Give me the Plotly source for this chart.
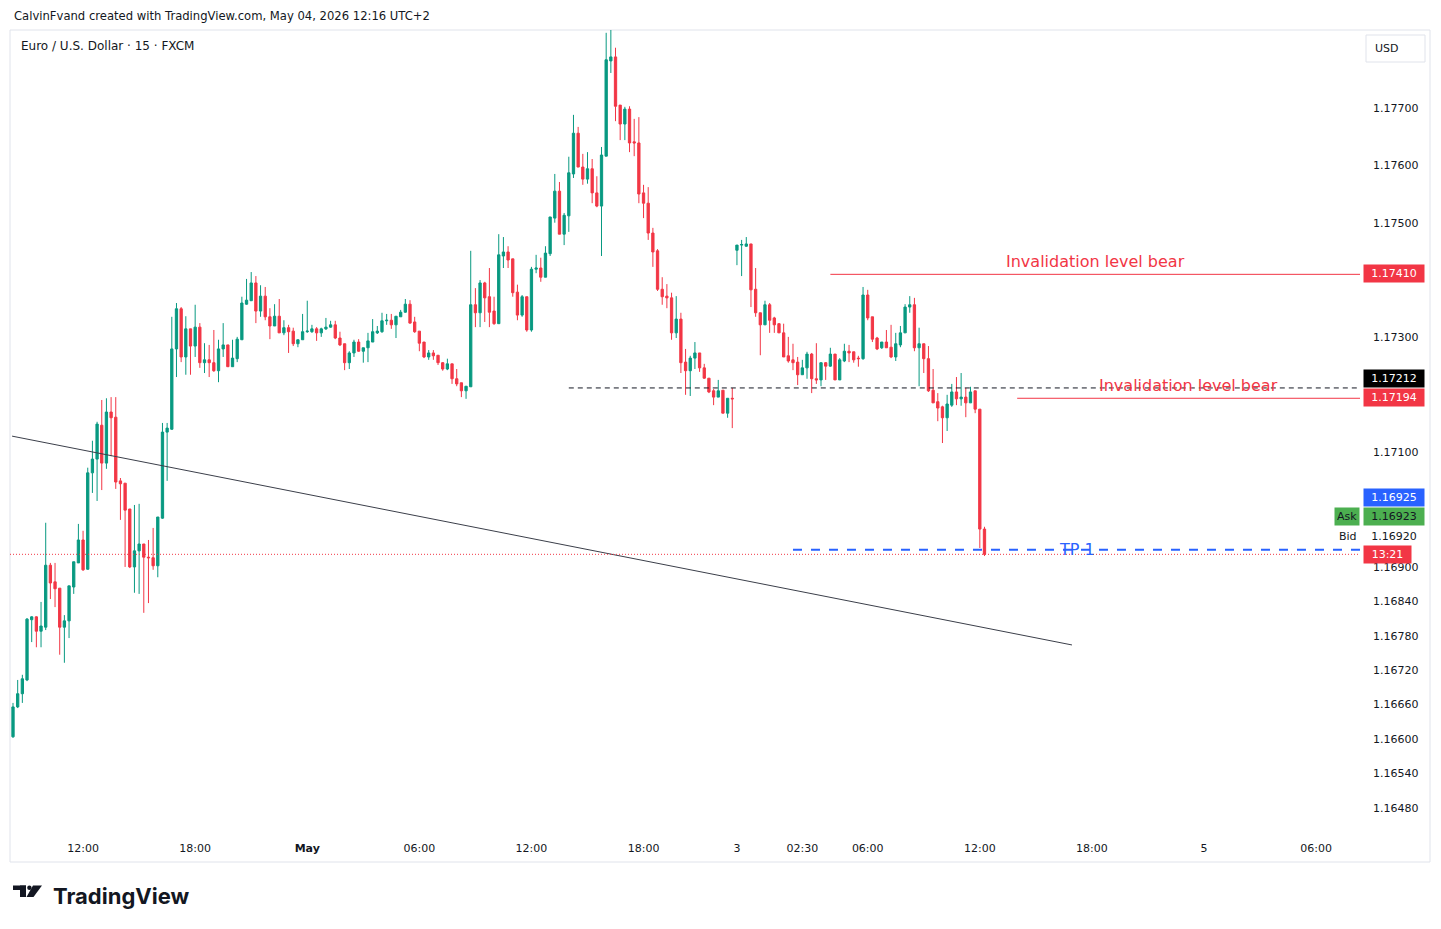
import pandas as pd
import plotly.graph_objects as go

# ---------------- data ----------------
session_starts = ["2026-04-30 08:15", "2026-05-03 23:00"]
session_bars = [155, 54]

opens = [
    1.16604, 1.16656, 1.16679, 1.16703, 1.16808, 1.16813, 1.16788, 1.16795, 1.16903, 1.16874,
    1.16863, 1.16795, 1.16806, 1.16865, 1.16907, 1.16947, 1.16896, 1.17064, 1.17088, 1.17147,
    1.17081, 1.17170, 1.17161, 1.17050, 1.17046, 1.17001, 1.16900, 1.16928, 1.16940, 1.16917,
    1.16916, 1.16902, 1.16985, 1.17135, 1.17140, 1.17280, 1.17350, 1.17266, 1.17315, 1.17285,
    1.17318, 1.17256, 1.17261, 1.17256, 1.17242, 1.17280, 1.17287, 1.17249, 1.17263, 1.17296,
    1.17358, 1.17364, 1.17395, 1.17346, 1.17372, 1.17336, 1.17320, 1.17337, 1.17308, 1.17317,
    1.17311, 1.17289, 1.17296, 1.17310, 1.17310, 1.17315, 1.17308, 1.17315, 1.17318, 1.17322,
    1.17299, 1.17289, 1.17256, 1.17273, 1.17292, 1.17276, 1.17282, 1.17292, 1.17308, 1.17310,
    1.17329, 1.17330, 1.17322, 1.17336, 1.17344, 1.17358, 1.17327, 1.17311, 1.17292, 1.17266,
    1.17273, 1.17269, 1.17256, 1.17245, 1.17254, 1.17228, 1.17221, 1.17207, 1.17214, 1.17357,
    1.17343, 1.17395, 1.17371, 1.17346, 1.17324, 1.17442, 1.17449, 1.17437, 1.17379, 1.17339,
    1.17371, 1.17313, 1.17419, 1.17421, 1.17405, 1.17446, 1.17508, 1.17555, 1.17480, 1.17512,
    1.17585, 1.17656, 1.17597, 1.17576, 1.17594, 1.17552, 1.17529, 1.17616, 1.17782, 1.17789,
    1.17705, 1.17672, 1.17698, 1.17641, 1.17639, 1.17552, 1.17534, 1.17482, 1.17451, 1.17384,
    1.17372, 1.17369, 1.17308, 1.17332, 1.17257, 1.17242, 1.17264, 1.17273, 1.17247, 1.17229,
    1.17207, 1.17196, 1.17208, 1.17168, 1.17194,
    1.17452, 1.17461, 1.17459, 1.17463, 1.17384, 1.17343, 1.17322, 1.17357, 1.17334, 1.17324,
    1.17308, 1.17268, 1.17261, 1.17257, 1.17235, 1.17247, 1.17271, 1.17228, 1.17226, 1.17256,
    1.17250, 1.17271, 1.17226, 1.17259, 1.17276, 1.17275, 1.17264, 1.17263, 1.17374, 1.17336,
    1.17299, 1.17282, 1.17292, 1.17283, 1.17266, 1.17287, 1.17308, 1.17353, 1.17357, 1.17282,
    1.17289, 1.17263, 1.17208, 1.17188, 1.17179, 1.17160, 1.17182, 1.17205, 1.17193, 1.17196,
    1.17186, 1.17207, 1.17175, 1.16966,
]
highs = [
    1.16663, 1.16703, 1.16712, 1.16811, 1.16814, 1.16814, 1.16839, 1.16977, 1.16907, 1.16907,
    1.16863, 1.16816, 1.16867, 1.16909, 1.16975, 1.16963, 1.17073, 1.17120, 1.17153, 1.17191,
    1.17194, 1.17196, 1.17196, 1.17055, 1.17046, 1.17001, 1.17008, 1.17010, 1.16940, 1.16947,
    1.16968, 1.16987, 1.17151, 1.17151, 1.17336, 1.17360, 1.17353, 1.17337, 1.17315, 1.17357,
    1.17325, 1.17290, 1.17287, 1.17313, 1.17296, 1.17325, 1.17287, 1.17296, 1.17301, 1.17371,
    1.17402, 1.17414, 1.17407, 1.17391, 1.17388, 1.17351, 1.17358, 1.17367, 1.17330, 1.17322,
    1.17317, 1.17296, 1.17341, 1.17364, 1.17322, 1.17318, 1.17317, 1.17334, 1.17329, 1.17329,
    1.17310, 1.17289, 1.17276, 1.17296, 1.17297, 1.17282, 1.17308, 1.17332, 1.17320, 1.17343,
    1.17341, 1.17341, 1.17337, 1.17348, 1.17367, 1.17365, 1.17336, 1.17311, 1.17292, 1.17278,
    1.17278, 1.17269, 1.17257, 1.17263, 1.17254, 1.17245, 1.17221, 1.17215, 1.17451, 1.17386,
    1.17400, 1.17397, 1.17421, 1.17371, 1.17480, 1.17475, 1.17459, 1.17437, 1.17392, 1.17374,
    1.17371, 1.17423, 1.17444, 1.17439, 1.17459, 1.17510, 1.17585, 1.17571, 1.17517, 1.17615,
    1.17688, 1.17667, 1.17620, 1.17623, 1.17611, 1.17581, 1.17632, 1.17831, 1.17836, 1.17805,
    1.17705, 1.17702, 1.17703, 1.17681, 1.17684, 1.17566, 1.17562, 1.17491, 1.17454, 1.17405,
    1.17393, 1.17378, 1.17372, 1.17343, 1.17280, 1.17268, 1.17292, 1.17273, 1.17254, 1.17229,
    1.17210, 1.17226, 1.17208, 1.17194, 1.17212,
    1.17461, 1.17470, 1.17475, 1.17463, 1.17421, 1.17343, 1.17364, 1.17360, 1.17336, 1.17324,
    1.17324, 1.17301, 1.17289, 1.17266, 1.17261, 1.17275, 1.17273, 1.17290, 1.17256, 1.17257,
    1.17282, 1.17271, 1.17264, 1.17289, 1.17287, 1.17275, 1.17268, 1.17388, 1.17383, 1.17336,
    1.17301, 1.17292, 1.17313, 1.17322, 1.17308, 1.17320, 1.17358, 1.17372, 1.17369, 1.17317,
    1.17289, 1.17285, 1.17245, 1.17203, 1.17181, 1.17200, 1.17219, 1.17231, 1.17238, 1.17212,
    1.17214, 1.17207, 1.17175, 1.16970,
]
lows = [
    1.16602, 1.16654, 1.16663, 1.16701, 1.16769, 1.16760, 1.16760, 1.16790, 1.16844, 1.16830,
    1.16747, 1.16733, 1.16776, 1.16853, 1.16907, 1.16893, 1.16895, 1.17029, 1.17015, 1.17034,
    1.17071, 1.17093, 1.17036, 1.16982, 1.16900, 1.16898, 1.16855, 1.16853, 1.16820, 1.16837,
    1.16895, 1.16882, 1.16984, 1.17050, 1.17139, 1.17231, 1.17257, 1.17235, 1.17235, 1.17266,
    1.17247, 1.17238, 1.17231, 1.17240, 1.17222, 1.17266, 1.17249, 1.17249, 1.17257, 1.17296,
    1.17357, 1.17364, 1.17325, 1.17336, 1.17330, 1.17297, 1.17320, 1.17308, 1.17304, 1.17273,
    1.17285, 1.17283, 1.17296, 1.17308, 1.17308, 1.17294, 1.17301, 1.17313, 1.17317, 1.17297,
    1.17285, 1.17243, 1.17245, 1.17266, 1.17275, 1.17256, 1.17257, 1.17292, 1.17306, 1.17308,
    1.17322, 1.17315, 1.17299, 1.17336, 1.17343, 1.17324, 1.17308, 1.17276, 1.17264, 1.17261,
    1.17261, 1.17252, 1.17242, 1.17243, 1.17219, 1.17215, 1.17196, 1.17193, 1.17214, 1.17318,
    1.17318, 1.17327, 1.17318, 1.17322, 1.17324, 1.17421, 1.17421, 1.17371, 1.17330, 1.17336,
    1.17310, 1.17310, 1.17412, 1.17397, 1.17405, 1.17442, 1.17500, 1.17480, 1.17461, 1.17484,
    1.17578, 1.17597, 1.17566, 1.17568, 1.17534, 1.17527, 1.17442, 1.17616, 1.17761, 1.17677,
    1.17644, 1.17644, 1.17623, 1.17616, 1.17534, 1.17508, 1.17470, 1.17423, 1.17381, 1.17357,
    1.17351, 1.17296, 1.17299, 1.17238, 1.17200, 1.17198, 1.17245, 1.17240, 1.17228, 1.17203,
    1.17182, 1.17196, 1.17168, 1.17160, 1.17142,
    1.17426, 1.17407, 1.17458, 1.17353, 1.17336, 1.17269, 1.17322, 1.17308, 1.17308, 1.17308,
    1.17266, 1.17256, 1.17243, 1.17217, 1.17235, 1.17228, 1.17203, 1.17219, 1.17215, 1.17226,
    1.17249, 1.17226, 1.17226, 1.17257, 1.17257, 1.17256, 1.17249, 1.17261, 1.17330, 1.17292,
    1.17278, 1.17280, 1.17282, 1.17264, 1.17259, 1.17283, 1.17308, 1.17343, 1.17276, 1.17215,
    1.17238, 1.17205, 1.17186, 1.17154, 1.17116, 1.17137, 1.17179, 1.17182, 1.17181, 1.17161,
    1.17186, 1.17168, 1.16933, 1.16919,
]
closes = [
    1.16656, 1.16679, 1.16705, 1.16809, 1.16813, 1.16788, 1.16797, 1.16903, 1.16872, 1.16862,
    1.16795, 1.16806, 1.16867, 1.16909, 1.16947, 1.16895, 1.17064, 1.17088, 1.17149, 1.17081,
    1.17170, 1.17160, 1.17048, 1.17045, 1.16999, 1.16900, 1.16928, 1.16940, 1.16917, 1.16916,
    1.16902, 1.16987, 1.17135, 1.17142, 1.17280, 1.17350, 1.17266, 1.17315, 1.17285, 1.17318,
    1.17256, 1.17261, 1.17256, 1.17242, 1.17280, 1.17287, 1.17249, 1.17264, 1.17297, 1.17360,
    1.17365, 1.17395, 1.17346, 1.17372, 1.17336, 1.17320, 1.17337, 1.17308, 1.17317, 1.17310,
    1.17289, 1.17296, 1.17310, 1.17311, 1.17315, 1.17308, 1.17315, 1.17318, 1.17322, 1.17299,
    1.17287, 1.17256, 1.17273, 1.17292, 1.17276, 1.17282, 1.17294, 1.17310, 1.17311, 1.17329,
    1.17330, 1.17322, 1.17337, 1.17344, 1.17358, 1.17325, 1.17310, 1.17290, 1.17266, 1.17273,
    1.17268, 1.17256, 1.17245, 1.17254, 1.17228, 1.17219, 1.17207, 1.17215, 1.17357, 1.17343,
    1.17395, 1.17369, 1.17344, 1.17324, 1.17444, 1.17449, 1.17435, 1.17378, 1.17339, 1.17371,
    1.17313, 1.17419, 1.17421, 1.17405, 1.17447, 1.17510, 1.17555, 1.17480, 1.17513, 1.17587,
    1.17656, 1.17597, 1.17576, 1.17594, 1.17552, 1.17529, 1.17618, 1.17784, 1.17789, 1.17703,
    1.17672, 1.17698, 1.17639, 1.17639, 1.17550, 1.17534, 1.17482, 1.17449, 1.17384, 1.17371,
    1.17369, 1.17308, 1.17332, 1.17256, 1.17242, 1.17264, 1.17273, 1.17247, 1.17229, 1.17205,
    1.17196, 1.17207, 1.17168, 1.17194, 1.17193,
    1.17461, 1.17462, 1.17463, 1.17383, 1.17343, 1.17322, 1.17357, 1.17330, 1.17322, 1.17308,
    1.17266, 1.17259, 1.17256, 1.17235, 1.17247, 1.17271, 1.17228, 1.17226, 1.17256, 1.17250,
    1.17271, 1.17226, 1.17261, 1.17276, 1.17273, 1.17261, 1.17263, 1.17374, 1.17334, 1.17297,
    1.17280, 1.17292, 1.17282, 1.17266, 1.17289, 1.17308, 1.17353, 1.17357, 1.17282, 1.17289,
    1.17263, 1.17207, 1.17186, 1.17177, 1.17160, 1.17184, 1.17205, 1.17193, 1.17196, 1.17186,
    1.17205, 1.17175, 1.16966, 1.16922,
]

x_tick_times = ["2026-04-30 12:00", "2026-04-30 18:00", "2026-05-01 00:00", "2026-05-01 06:00",
                "2026-05-01 12:00", "2026-05-01 18:00", "2026-05-03 23:00", "2026-05-04 02:30",
                "2026-05-04 06:00", "2026-05-04 12:00", "2026-05-04 18:00", "2026-05-05 00:00",
                "2026-05-05 06:00"]
x_tick_labels = ["12:00", "18:00", "<b>May</b>", "06:00", "12:00", "18:00", "3", "02:30",
                 "06:00", "12:00", "18:00", "5", "06:00"]
y_tick_values = [1.1770, 1.1760, 1.1750, 1.1730, 1.1710,
                 1.1690, 1.1684, 1.1678, 1.1672, 1.1666, 1.1660, 1.1654, 1.1648]

weekend_gap = ["2026-05-01 23:00", "2026-05-03 23:00"]
x_range = ["2026-04-30 08:05:20", "2026-05-05 08:21"]
y_range = [1.164345, 1.178359]

# drawings
trend_pts = [("2026-04-30 08:12", 1.17128), ("2026-05-04 16:56", 1.16764)]
invalidation_1 = ("2026-05-04 04:00", 1.17410)
invalidation_2 = ("2026-05-04 14:00", 1.17194)
ref_level = ("2026-05-01 14:00", 1.17212)
tp_level = ("2026-05-04 02:00", 1.16930)
last_price = 1.16922
ask_price, bid_price, blue_price = 1.16923, 1.16920, 1.16925
countdown = "13:21"

UP = "#089981"
DOWN = "#f23645"
RED = "#f23645"
BLUE = "#2962ff"
TXT = "#131722"
FONT = "DejaVu Sans"

# ---------------- build ----------------
times = []
for s, n in zip(session_starts, session_bars):
    times += list(pd.date_range(s, periods=n, freq="15min"))

fig = go.Figure(go.Candlestick(
    x=times, open=opens, high=highs, low=lows, close=closes,
    increasing=dict(line=dict(color=UP, width=1), fillcolor=UP),
    decreasing=dict(line=dict(color=DOWN, width=1), fillcolor=DOWN),
    whiskerwidth=0, showlegend=False, hoverinfo="skip",
))

W, H = 1441, 929
ML, MR, MT, MB = 10, 81, 30, 95
PW, PH = W - ML - MR, H - MT - MB


def px(xp):
    return (xp - ML) / PW


def py(yp):
    return (H - MB - yp) / PH


def mid_time(a, b):
    ta, tb = pd.Timestamp(a), pd.Timestamp(b)
    return ta + (tb - ta) / 2


shapes = []
# panel border
shapes.append(dict(type="rect", xref="paper", yref="paper", x0=px(10), x1=px(1430), y0=py(862), y1=py(30),
                   line=dict(color="#e0e3eb", width=1), fillcolor="rgba(0,0,0,0)", layer="below"))
# trend line
shapes.append(dict(type="line", xref="x", yref="y", x0=trend_pts[0][0], y0=trend_pts[0][1],
                   x1=trend_pts[1][0], y1=trend_pts[1][1], line=dict(color="#3b3f4a", width=1)))
# current price dotted line
shapes.append(dict(type="line", xref="paper", yref="y", x0=0, x1=1, y0=last_price, y1=last_price,
                   line=dict(color=RED, width=1, dash="1px,2px")))
# black dashed level
shapes.append(dict(type="line", xref="x", yref="y", x0=ref_level[0], x1=x_range[1], y0=ref_level[1], y1=ref_level[1],
                   line=dict(color=TXT, width=1, dash="5px,4px")))
# invalidation rays
for lvl in (invalidation_1, invalidation_2):
    shapes.append(dict(type="line", xref="x", yref="y", x0=lvl[0], x1=x_range[1], y0=lvl[1], y1=lvl[1],
                       line=dict(color=RED, width=1)))
# TP level
shapes.append(dict(type="line", xref="x", yref="y", x0=tp_level[0], x1=x_range[1], y0=tp_level[1], y1=tp_level[1],
                   line=dict(color=BLUE, width=2, dash="9px,9px")))
# USD box
shapes.append(dict(type="rect", xref="paper", yref="paper", x0=px(1366), x1=px(1425), y0=py(62), y1=py(35),
                   line=dict(color="#e0e3eb", width=1), fillcolor="white"))
# TradingView logo glyph
shapes.append(dict(type="rect", xref="paper", yref="paper", x0=px(13), x1=px(26), y0=py(890), y1=py(885.5),
                   line=dict(width=0), fillcolor=TXT))
shapes.append(dict(type="rect", xref="paper", yref="paper", x0=px(20), x1=px(26), y0=py(897), y1=py(885.5),
                   line=dict(width=0), fillcolor=TXT))
shapes.append(dict(type="circle", xref="paper", yref="paper", x0=px(27.2), x1=px(31.6), y0=py(890), y1=py(885.6),
                   line=dict(width=0), fillcolor=TXT))
x_a, x_b, x_c, x_d = px(33), px(42), px(33.5), px(26.5)
y_t, y_b = py(885.5), py(897)
shapes.append(dict(type="path", xref="paper", yref="paper",
                   path=f"M {x_a} {y_t} L {x_b} {y_t} L {x_c} {y_b} L {x_d} {y_b} Z",
                   line=dict(width=0), fillcolor=TXT))

annotations = []
# header texts
annotations.append(dict(xref="paper", yref="paper", x=px(12), y=py(16), xanchor="left", yanchor="middle",
                        text="CalvinFvand created with TradingView.com, May 04, 2026 12:16 UTC+2",
                        showarrow=False, font=dict(family=FONT, size=11.6, color=TXT)))
annotations.append(dict(xref="paper", yref="paper", x=px(19), y=py(46), xanchor="left", yanchor="middle",
                        text="Euro / U.S. Dollar · 15 · FXCM",
                        showarrow=False, font=dict(family=FONT, size=12, color=TXT)))
annotations.append(dict(xref="paper", yref="paper", x=px(1387), y=py(48.5), xanchor="center", yanchor="middle",
                        text="USD", showarrow=False, font=dict(family=FONT, size=11, color=TXT)))
annotations.append(dict(xref="paper", yref="paper", x=px(51), y=py(896), xanchor="left", yanchor="middle",
                        text="<b>TradingView</b>", showarrow=False,
                        font=dict(family="Inter", size=22, color=TXT)))

# drawing labels
lab_font = dict(family="DejaVu Sans", size=16)
annotations.append(dict(xref="x", yref="y", x=mid_time(invalidation_1[0], x_range[1]), y=invalidation_1[1],
                        yanchor="bottom", yshift=1, text="Invalidation level bear", showarrow=False,
                        font=dict(color=RED, **lab_font)))
annotations.append(dict(xref="x", yref="y", x=mid_time(invalidation_2[0], x_range[1]), y=invalidation_2[1],
                        yanchor="bottom", yshift=1, text="Invalidation level bear", showarrow=False,
                        font=dict(color=RED, **lab_font)))
annotations.append(dict(xref="x", yref="y", x=mid_time(tp_level[0], x_range[1]), y=tp_level[1],
                        yanchor="middle", text="TP 1", showarrow=False,
                        font=dict(color=BLUE, **lab_font)))


def axis_label(price, text, bg, fg="white", shift=0, width=56):
    return dict(xref="paper", yref="y", x=1, y=price, xanchor="left", yanchor="middle",
                xshift=3, yshift=shift, text=text, showarrow=False, bgcolor=bg,
                width=width, height=13, borderpad=2, align="center",
                font=dict(family=FONT, size=11, color=fg))


annotations.append(axis_label(invalidation_1[1], f"{invalidation_1[1]:.5f}", RED, shift=1))
annotations.append(axis_label(ref_level[1], f"{ref_level[1]:.5f}", "#000000", shift=9))
annotations.append(axis_label(invalidation_2[1], f"{invalidation_2[1]:.5f}", RED, shift=1))
annotations.append(axis_label(blue_price, f"{blue_price:.5f}", BLUE, shift=55))
annotations.append(axis_label(ask_price, f"{ask_price:.5f}", "#4caf50", fg=TXT, shift=37))
annotations.append(axis_label(bid_price, f"{bid_price:.5f}", "white", fg=TXT, shift=19))
annotations.append(axis_label(last_price, countdown, RED, shift=0, width=43))
annotations.append(dict(xref="paper", yref="y", x=1, y=ask_price, xanchor="right", yanchor="middle",
                        xshift=0, yshift=37, text="Ask", showarrow=False, bgcolor="#4caf50",
                        height=13, borderpad=2, font=dict(family=FONT, size=11, color=TXT)))
annotations.append(dict(xref="paper", yref="y", x=1, y=bid_price, xanchor="right", yanchor="middle",
                        xshift=0, yshift=19, text="Bid", showarrow=False,
                        height=13, borderpad=2, font=dict(family=FONT, size=11, color=TXT)))

fig.update_layout(
    width=W, height=H,
    margin=dict(l=ML, r=MR, t=MT, b=MB),
    paper_bgcolor="white", plot_bgcolor="white",
    showlegend=False,
    shapes=shapes,
    annotations=annotations,
    xaxis=dict(
        type="date", range=x_range,
        rangebreaks=[dict(bounds=weekend_gap)],
        rangeslider=dict(visible=False),
        tickvals=x_tick_times, ticktext=x_tick_labels,
        showgrid=False, zeroline=False, showline=False, ticks="",
        ticklabelstandoff=6,
        tickfont=dict(family=FONT, size=11, color=TXT),
    ),
    yaxis=dict(
        side="right", range=y_range,
        tickvals=y_tick_values, ticktext=[f"{v:.5f}" for v in y_tick_values],
        showgrid=False, zeroline=False, showline=False, ticks="",
        ticklabelstandoff=12,
        tickfont=dict(family=FONT, size=11, color=TXT),
    ),
)

fig.write_html("out.html", config={"displayModeBar": False},
               post_script="document.body.style.margin='0px';")
